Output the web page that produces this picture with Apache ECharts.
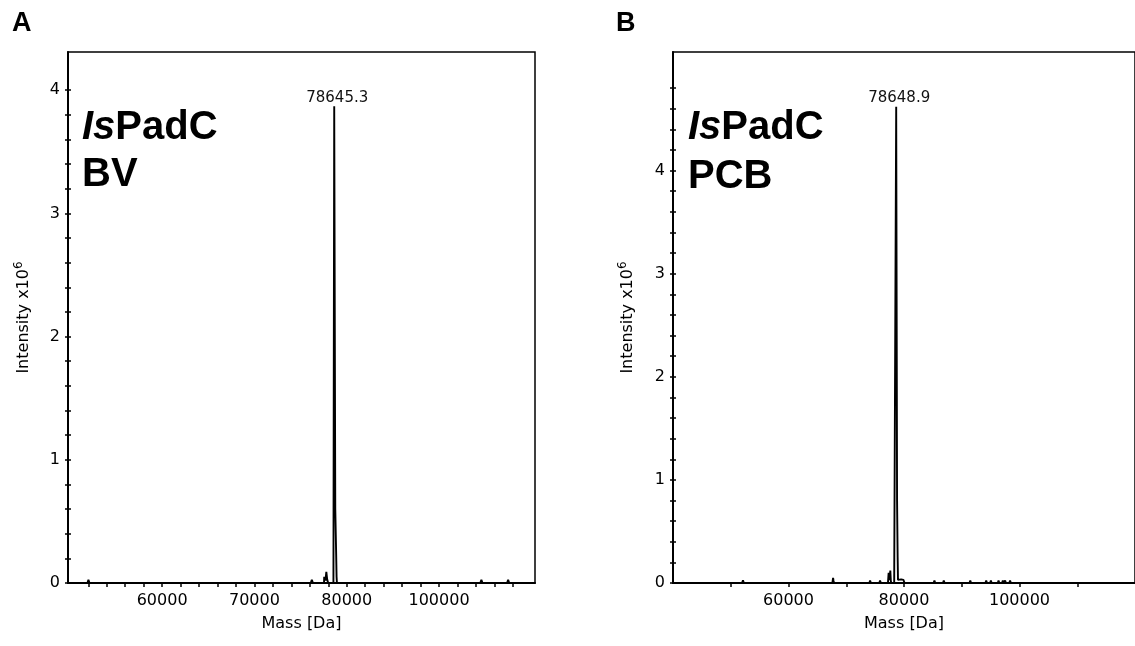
<!DOCTYPE html>
<html>
<head>
<meta charset="utf-8">
<script src="https://cdn.jsdelivr.net/npm/echarts@6/dist/echarts.min.js"></script>
<style>
html,body{margin:0;padding:0;background:#fff;}
#chart{width:1135px;height:646px;}
</style>
</head>
<body>
<div id="chart"></div>
<script>
// deconvoluted spectra, mass [Da] / intensity x10^6
var massA = [49800, 51900, 52015, 52130, 76100, 76221, 76340, 77540, 77560, 77680, 77700, 77790, 77880, 77990,
    78560, 78645.3, 78760, 78860, 78900, 78940, 94470, 94590, 94710, 97370, 97490, 97610, 100400];
var intensityA = [0, 0, 0.025, 0, 0, 0.025, 0, 0, 0.05, 0.05, 0.02, 0.09, 0.03, 0,
    0, 3.87, 0.6, 0.22, 0.05, 0, 0, 0.025, 0, 0, 0.025, 0, 0];

var massB = [40000, 51950, 52114, 52280, 67600, 67720, 67800, 67900, 74000, 74131, 74260, 75720, 75856, 75990,
    77220, 77340, 77420, 77520, 77630, 77720, 77800, 78300, 78648.9, 78800, 78900, 78960, 79100, 79300, 79500,
    79700, 79900, 80100, 85130, 85270, 85410, 86750, 86890, 87030, 91340, 91475, 91610, 94100, 94235, 94370,
    94910, 95045, 95180, 96240, 96370, 96500, 96980, 97115, 97250, 97380, 97510, 97650, 98230, 98370, 98500, 120000];
var intensityB = [0, 0, 0.025, 0, 0, 0.05, 0.02, 0, 0, 0.025, 0, 0, 0.025, 0,
    0, 0.10, 0.03, 0.05, 0.12, 0.02, 0, 0, 4.62, 0.8, 0.25, 0.03, 0.035, 0.02, 0.035,
    0.02, 0.03, 0, 0, 0.025, 0, 0, 0.025, 0, 0, 0.025, 0, 0, 0.025, 0,
    0, 0.025, 0, 0, 0.025, 0, 0, 0.025, 0, 0, 0.025, 0, 0, 0.025, 0, 0];

var peakA = [78645.3, 3.87];
var peakB = [78648.9, 4.62];

// tick labels as printed on the figure
var xLabelPosA = [60000, 70000, 80000, 90000];
var xLabelTextA = ['60000', '70000', '80000', '100000'];
var xLabelPosB = [60000, 80000, 100000];
var xLabelTextB = ['60000', '80000', '100000'];
var yLabelsA = [0, 1, 2, 3, 4];
var yLabelsB = [0, 1, 2, 3, 4];

var FONT = 'DejaVu Sans';
var HEAD = 'Liberation Sans';

function zip(xs, ys){
    var out = [];
    for(var i = 0; i < xs.length; i++){
        out.push([xs[i], ys[i]]);
    }
    return out;
}
function steps(from, to, step){
    var out = [];
    for(var v = from; v <= to + 1e-9; v += step){
        out.push(Math.round(v * 1000) / 1000);
    }
    return out;
}
function labelFor(pos, text){
    return function(v){
        var i = pos.indexOf(v);
        return i < 0 ? '' : text[i];
    }
}

function xAxisOf(grid, min, max, ticks, pos, text){
    return {
        type: 'value', gridIndex: grid, min: min, max: max,
        name: 'Mass [Da]', nameLocation: 'middle', nameGap: 33,
        nameTextStyle: {fontFamily: FONT, fontSize: 16, color: '#000'},
        axisLine: {show: true, onZero: false, lineStyle: {color: '#000', width: 2}},
        axisTick: {show: true, length: 4, customValues: ticks, lineStyle: {color: '#000', width: 1.5}},
        axisLabel: {customValues: pos, formatter: labelFor(pos, text), fontFamily: FONT, fontSize: 16, color: '#000', margin: 10},
        splitLine: {show: false}
    };
}
// two y axes per grid: one with outside ticks + labels, one with inside ticks only,
// so the ticks cross the axis line like in the figure
function yAxisOf(grid, max, ticks, labels, gap){
    return {
        type: 'value', gridIndex: grid, min: 0, max: max,
        name: 'Intensity x10{s|6}', nameLocation: 'middle', nameGap: gap, nameRotate: 90,
        nameTextStyle: {fontFamily: FONT, fontSize: 16, color: '#000', lineHeight: 22,
            rich: {s: {fontFamily: FONT, fontSize: 12, color: '#000', verticalAlign: 'top', lineHeight: 22}}},
        axisLine: {show: true, onZero: false, lineStyle: {color: '#000', width: 2}},
        axisTick: {show: true, length: 3, customValues: ticks, lineStyle: {color: '#000', width: 1.5}},
        axisLabel: {customValues: labels, fontFamily: FONT, fontSize: 16, color: '#000', margin: 8},
        splitLine: {show: false}
    };
}
function yInnerOf(grid, max, ticks){
    return {
        type: 'value', gridIndex: grid, min: 0, max: max, position: 'left',
        axisLine: {show: false},
        axisTick: {show: true, inside: true, length: 3, customValues: ticks, lineStyle: {color: '#000', width: 1.5}},
        axisLabel: {show: false},
        splitLine: {show: false}
    };
}
function spectrum(idx, data, peak){
    return {
        type: 'line', xAxisIndex: idx, yAxisIndex: idx,
        data: data, symbol: 'none', showSymbol: false, clip: true,
        lineStyle: {color: '#000', width: 1.9},
        markPoint: {
            symbol: 'circle', symbolSize: 0, silent: true,
            label: {show: true, position: 'top', distance: 1, offset: [3, 0],
                fontFamily: FONT, fontSize: 15, color: '#111',
                formatter: String(peak[0])},
            data: [{coord: peak, value: peak[0]}]
        }
    };
}
function head(x, y, text, size){
    return {
        type: 'text', x: x, y: y, silent: true,
        style: {text: text, fill: '#000', fontFamily: HEAD, fontWeight: 'bold', fontSize: size,
            textVerticalAlign: 'middle',
            rich: {i: {fontFamily: HEAD, fontWeight: 'bold', fontStyle: 'italic', fontSize: size, fill: '#000'}}}
    };
}

var myChart = echarts.init(document.getElementById('chart'), null, {renderer: 'canvas'});
var option = {
    animation: false,
    backgroundColor: '#fff',
    grid: [
        {left: 68, top: 52, width: 467, height: 531, show: true, borderColor: '#000', borderWidth: 1.5},
        {left: 673, top: 52, width: 467, height: 531, show: true, borderColor: '#000', borderWidth: 1.5}
    ],
    xAxis: [
        xAxisOf(0, 49800, 100400, steps(52000, 98000, 2000), xLabelPosA, xLabelTextA),
        xAxisOf(1, 40000, 120000, steps(50000, 110000, 10000), xLabelPosB, xLabelTextB)
    ],
    yAxis: [
        yAxisOf(0, 4.31, steps(0, 4, 0.2), yLabelsA, 33),
        yAxisOf(1, 5.15, steps(0, 4.8, 0.2), yLabelsB, 34),
        yInnerOf(0, 4.31, steps(0, 4, 0.2)),
        yInnerOf(1, 5.15, steps(0, 4.8, 0.2))
    ],
    series: [
        spectrum(0, zip(massA, intensityA), peakA),
        spectrum(1, zip(massB, intensityB), peakB)
    ],
    graphic: [
        head(12, 24, 'A', 27),
        head(616, 24, 'B', 27),
        head(82, 128, '{i|Is}PadC', 40),
        head(82, 175, 'BV', 40),
        head(688, 128, '{i|Is}PadC', 40),
        head(688, 177, 'PCB', 40)
    ]
};
myChart.setOption(option);
</script>
</body>
</html>
